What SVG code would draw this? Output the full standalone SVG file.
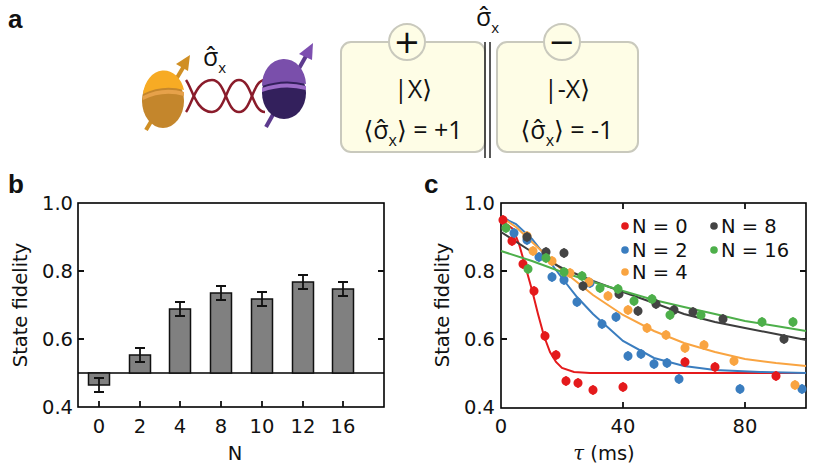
<svg xmlns="http://www.w3.org/2000/svg" width="818" height="466" viewBox="0 0 818 466">
<style>
text{font-family:"DejaVu Sans","Liberation Sans",sans-serif;fill:#111}
.lbl{font-family:"Liberation Sans",Arial,sans-serif;font-weight:bold;font-size:26px}
.tk{font-size:19.5px}
.ax{fill:none;stroke:#000;stroke-width:1.6}
.bar{fill:#808080;stroke:#111;stroke-width:1.5}
.eb{stroke:#111;stroke-width:1.8;fill:none}
.box{fill:#fefde6;stroke:#c9c9bd;stroke-width:2}
.qt{font-family:"Open Sans","DejaVu Sans",sans-serif;font-size:25px}
.fit{fill:none;stroke-width:2}
.hx{fill:none;stroke:#8a1c2b;stroke-width:2.5}
</style>
<rect width="818" height="466" fill="#fff"/>
<text class="lbl" x="8" y="28">a</text>
<text class="lbl" x="8" y="193">b</text>
<text class="lbl" x="424" y="193">c</text>

<g id="spins">
<path class="hx" d="M186,80 C192,88 196,112 212,112 C226,112 226,80 239,80 C252,80 252,112 265,112"/>
<path class="hx" d="M186,112 C192,104 196,80 212,80 C226,80 226,112 239,112 C252,112 252,80 265,80"/>
<line x1="146" y1="130" x2="184" y2="66" stroke="#d08f24" stroke-width="4"/>
<polygon points="190,55 176,64 188,71" fill="#d08f24"/>
<ellipse cx="163" cy="101" rx="21" ry="27" fill="#c4862c"/>
<path d="M143,94 A21,27 0 0 1 184,90 Q163,84 143,94Z" fill="#f7ab24"/>
<path d="M143,100 Q163,90 184,96 L184,92 Q163,86 143,96Z" fill="#e6a14a"/>
<line x1="266" y1="127" x2="306" y2="56" stroke="#5d3a8e" stroke-width="4"/>
<polygon points="313,43 299,54 312,60" fill="#7d4fb0"/>
<ellipse cx="284" cy="93" rx="22" ry="26" fill="#33205c"/>
<path d="M262,86 A22,26 0 0 1 306,84 Q284,78 262,86Z" fill="#7a4fab"/>
<path d="M262,92 Q284,84 306,90 L306,86 Q284,80 262,88Z" fill="#9c6cc8"/>
<text class="qt" x="203" y="66" font-size="23">σ̂<tspan font-size="15" dy="7">x</tspan></text>
</g>

<g id="box-plus">
<rect class="box" x="341" y="42" width="144" height="110" rx="10"/>
<circle class="box" cx="407" cy="42" r="18"/>
<text x="407" y="53" text-anchor="middle" font-size="32">+</text>
<text class="qt" x="413" y="98" text-anchor="middle">|X⟩</text>
<text class="qt" x="413" y="139" text-anchor="middle">⟨σ̂<tspan font-size="16" dy="7">x</tspan><tspan dy="-7">⟩ = +1</tspan></text>
</g>
<g id="box-minus">
<rect class="box" x="497" y="42" width="141" height="110" rx="10"/>
<circle class="box" cx="562" cy="42" r="18"/>
<text x="562" y="53" text-anchor="middle" font-size="32">−</text>
<text class="qt" x="567" y="98" text-anchor="middle">|-X⟩</text>
<text class="qt" x="567" y="139" text-anchor="middle">⟨σ̂<tspan font-size="16" dy="7">x</tspan><tspan dy="-7">⟩ = -1</tspan></text>
</g>
<g id="divider">
<line x1="485" y1="42" x2="485" y2="158" stroke="#222" stroke-width="1.5"/>
<line x1="490" y1="42" x2="490" y2="158" stroke="#222" stroke-width="1.5"/>
<text class="qt" x="476" y="26" font-size="23">σ̂<tspan font-size="15" dy="7">x</tspan></text>
</g>

<g id="panel-b">
<rect class="ax" x="78" y="203" width="306" height="204"/>
<line x1="78" y1="373" x2="384" y2="373" stroke="#000" stroke-width="1.6"/>
<g class="eb">
<path d="M78,339h6M78,271h6M384,339h-6M384,271h-6"/>
<path d="M99,407v-6M140,407v-6M180,407v-6M221,407v-6M262,407v-6M303,407v-6M343,407v-6"/>
</g>
<rect class="bar" x="88.5" y="373" width="21" height="12"/>
<rect class="bar" x="129.5" y="355" width="21" height="18"/>
<rect class="bar" x="169.5" y="309" width="21" height="64"/>
<rect class="bar" x="210.5" y="293" width="21" height="80"/>
<rect class="bar" x="251.5" y="299" width="21" height="74"/>
<rect class="bar" x="292.5" y="282" width="21" height="91"/>
<rect class="bar" x="332.5" y="289" width="21" height="84"/>
<g class="eb">
<path d="M99,378v14M94,378h10M94,392h10"/>
<path d="M140,348v14M135,348h10M135,362h10"/>
<path d="M180,302v14M175,302h10M175,316h10"/>
<path d="M221,286v14M216,286h10M216,300h10"/>
<path d="M262,292v14M257,292h10M257,306h10"/>
<path d="M303,275v14M298,275h10M298,289h10"/>
<path d="M343,282v14M338,282h10M338,296h10"/>
</g>
<g class="tk" text-anchor="end">
<text x="73" y="210">1.0</text><text x="73" y="278">0.8</text><text x="73" y="346">0.6</text><text x="73" y="414">0.4</text>
</g>
<g class="tk" text-anchor="middle">
<text x="99" y="433">0</text><text x="140" y="433">2</text><text x="180" y="433">4</text><text x="221" y="433">8</text><text x="262" y="433">10</text><text x="303" y="433">12</text><text x="343" y="433">16</text>
<text x="235" y="460">N</text>
<text transform="translate(27,305) rotate(-90)">State fidelity</text>
</g>
</g>

<g id="panel-c">
<rect class="ax" x="501" y="203" width="305" height="205"/>
<g class="eb">
<path d="M501,339h6M501,271h6M806,339h-6M806,271h-6"/>
<path d="M623,408v-6M745,408v-6M623,203v6M745,203v6"/>
</g>
<g class="tk" text-anchor="end">
<text x="495" y="210">1.0</text><text x="495" y="278">0.8</text><text x="495" y="346">0.6</text><text x="495" y="414">0.4</text>
</g>
<g class="tk" text-anchor="middle">
<text x="501" y="433">0</text><text x="623" y="433">40</text><text x="745" y="433">80</text>
<text x="604" y="460"><tspan font-family="DejaVu Serif" font-style="italic">τ</tspan> (ms)</text>
<text transform="translate(449,305) rotate(-90)">State fidelity</text>
</g>
<polyline class="fit" stroke="#e41a1c" points="501,220 513,229 519,244 525,265 532,290 538,314 544,336 550,352 556,362 562,368 574,372 590,373 806,373"/>
<polyline class="fit" stroke="#3a7dbf" points="501,217 516,224 532,239 547,258 562,278 577,297 593,314 623,341 654,358 684,366 715,370 760,372 806,373"/>
<polyline class="fit" stroke="#f9a441" points="501,217 516,227 532,242 562,270 593,295 623,315 654,331 684,343 715,352 745,359 776,363 806,366"/>
<polyline class="fit" stroke="#3d3d3d" points="501,232 532,252 562,268 593,281 623,292 654,303 684,314 715,322 745,328 776,334 806,340"/>
<polyline class="fit" stroke="#4daf4a" points="501,251 532,261 562,272 593,282 623,291 654,300 684,307 715,314 745,321 776,326 806,331"/>
<g fill="#e41a1c" stroke="#e41a1c" stroke-width="1.5">
<path d="M503,215v10M512,236v10M523,259v10M534,286v10M545,331v10M556,350v10M566,376v10M578,378v10M593,385v10M623,382v10M685,357v10M715,362v10M776,371v10"/>
<circle cx="503" cy="220" r="3.8"/><circle cx="512" cy="241" r="3.8"/><circle cx="523" cy="264" r="3.8"/><circle cx="534" cy="291" r="3.8"/><circle cx="545" cy="336" r="3.8"/><circle cx="556" cy="355" r="3.8"/><circle cx="566" cy="381" r="3.8"/><circle cx="578" cy="383" r="3.8"/><circle cx="593" cy="390" r="3.8"/><circle cx="623" cy="387" r="3.8"/><circle cx="685" cy="362" r="3.8"/><circle cx="715" cy="367" r="3.8"/><circle cx="776" cy="376" r="3.8"/>
</g>
<g fill="#3a7dbf" stroke="#3a7dbf" stroke-width="1.5">
<path d="M514,228v10M527,235v10M539,252v10M552,272v10M564,275v10M577,297v10M590,278v10M602,319v10M616,312v10M628,351v10M641,349v10M654,359v10M667,358v10M679,374v10M740,384v10M802,384v10"/>
<circle cx="514" cy="233" r="3.8"/><circle cx="527" cy="240" r="3.8"/><circle cx="539" cy="257" r="3.8"/><circle cx="552" cy="277" r="3.8"/><circle cx="564" cy="280" r="3.8"/><circle cx="577" cy="302" r="3.8"/><circle cx="590" cy="283" r="3.8"/><circle cx="602" cy="324" r="3.8"/><circle cx="616" cy="317" r="3.8"/><circle cx="628" cy="356" r="3.8"/><circle cx="641" cy="354" r="3.8"/><circle cx="654" cy="364" r="3.8"/><circle cx="667" cy="363" r="3.8"/><circle cx="679" cy="379" r="3.8"/><circle cx="740" cy="389" r="3.8"/><circle cx="802" cy="389" r="3.8"/>
</g>
<g fill="#f9a441" stroke="#f9a441" stroke-width="1.5">
<path d="M527,231v10M533,246v10M552,256v10M570,268v10M589,277v10M608,291v10M628,305v10M647,323v10M666,330v10M685,343v10M704,340v10M734,356v10M795,380v10"/>
<circle cx="527" cy="236" r="3.8"/><circle cx="533" cy="251" r="3.8"/><circle cx="552" cy="261" r="3.8"/><circle cx="570" cy="273" r="3.8"/><circle cx="589" cy="282" r="3.8"/><circle cx="608" cy="296" r="3.8"/><circle cx="628" cy="310" r="3.8"/><circle cx="647" cy="328" r="3.8"/><circle cx="666" cy="335" r="3.8"/><circle cx="685" cy="348" r="3.8"/><circle cx="704" cy="345" r="3.8"/><circle cx="734" cy="361" r="3.8"/><circle cx="795" cy="385" r="3.8"/>
</g>
<g fill="#444" stroke="#444" stroke-width="1.5">
<path d="M527,232v10M546,247v10M564,248v10M583,281v10M619,289v10M638,306v10M656,299v10M674,305v10M693,307v10M723,314v10M784,334v10"/>
<circle cx="527" cy="237" r="3.8"/><circle cx="546" cy="252" r="3.8"/><circle cx="564" cy="253" r="3.8"/><circle cx="583" cy="286" r="3.8"/><circle cx="619" cy="294" r="3.8"/><circle cx="638" cy="311" r="3.8"/><circle cx="656" cy="304" r="3.8"/><circle cx="674" cy="310" r="3.8"/><circle cx="693" cy="312" r="3.8"/><circle cx="723" cy="319" r="3.8"/><circle cx="784" cy="339" r="3.8"/>
</g>
<g fill="#4daf4a" stroke="#4daf4a" stroke-width="1.5">
<path d="M506,223v10M528,264v10M546,253v10M564,267v10M582,271v10M600,283v10M618,284v10M634,296v10M652,294v10M670,310v10M701,310v10M762,317v10M793,317v10"/>
<circle cx="506" cy="228" r="3.8"/><circle cx="528" cy="269" r="3.8"/><circle cx="546" cy="258" r="3.8"/><circle cx="564" cy="272" r="3.8"/><circle cx="582" cy="276" r="3.8"/><circle cx="600" cy="288" r="3.8"/><circle cx="618" cy="289" r="3.8"/><circle cx="634" cy="301" r="3.8"/><circle cx="652" cy="299" r="3.8"/><circle cx="670" cy="315" r="3.8"/><circle cx="701" cy="315" r="3.8"/><circle cx="762" cy="322" r="3.8"/><circle cx="793" cy="322" r="3.8"/>
</g>
<g id="legend" class="tk">
<circle cx="625" cy="226" r="3.8" fill="#e41a1c"/><text x="632" y="233">N = 0</text>
<circle cx="714" cy="226" r="3.8" fill="#444"/><text x="721" y="233">N = 8</text>
<circle cx="625" cy="250" r="3.8" fill="#3a7dbf"/><text x="632" y="257">N = 2</text>
<circle cx="714" cy="250" r="3.8" fill="#4daf4a"/><text x="721" y="257">N = 16</text>
<circle cx="625" cy="272" r="3.8" fill="#f9a441"/><text x="632" y="279">N = 4</text>
</g>
</g>
</svg>
